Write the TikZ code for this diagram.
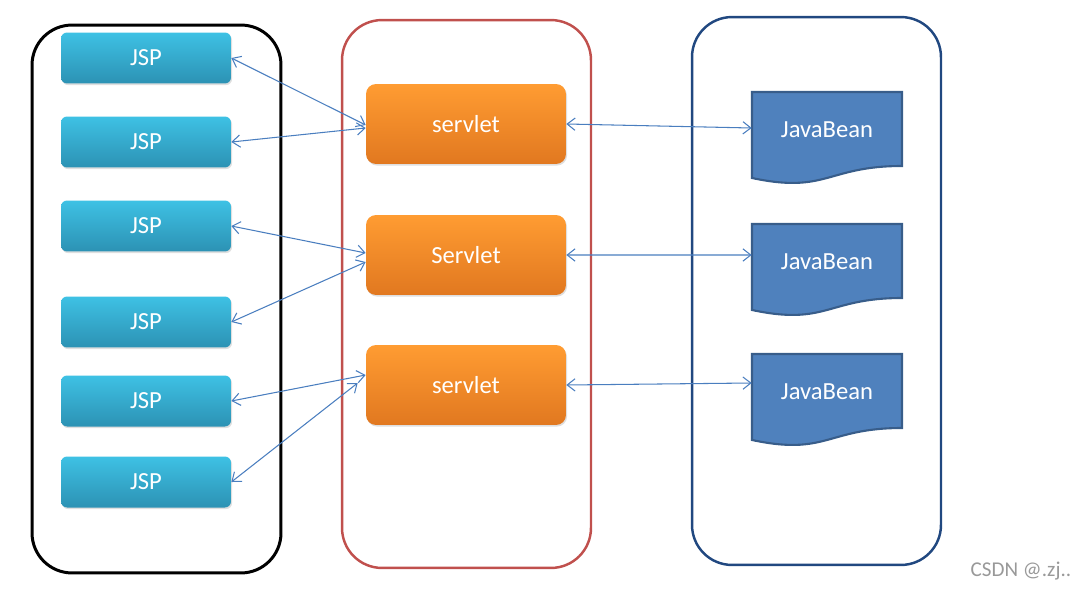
\documentclass[tikz,border=0pt]{standalone}
\usepackage{fontspec}
\setmainfont{Carlito}
\usetikzlibrary{arrows.meta,shadows}

\definecolor{jsptop}{RGB}{62,193,228}
\definecolor{jspbot}{RGB}{44,146,180}
\definecolor{srvtop}{RGB}{255,156,50}
\definecolor{srvbot}{RGB}{225,120,32}
\definecolor{beanfill}{RGB}{79,129,189}
\definecolor{beanline}{RGB}{56,93,138}
\definecolor{panelred}{RGB}{192,80,77}
\definecolor{panelblue}{RGB}{33,72,128}
\definecolor{linkblue}{RGB}{74,126,191}

\begin{document}
\begin{tikzpicture}
        [
            x = 0.02cm, y = -0.02cm,
            > = {Straight Barb[length=4.5pt,width=7pt]},
            panel/.style = {
                draw, rectangle, rounded corners=0.8cm,
                minimum width=4.98cm, minimum height=10.96cm},
            jsp/.style = {
                rectangle, rounded corners=0.12cm,
                top color=jsptop, bottom color=jspbot,
                minimum width=3.4cm, minimum height=1.02cm,
                text=white, font=\fontsize{14pt}{16pt}\selectfont,
                drop shadow={shadow xshift=0.6pt, shadow yshift=-0.9pt, opacity=0.25}},
            srv/.style = {
                rectangle, rounded corners=0.2cm,
                top color=srvtop, bottom color=srvbot,
                minimum width=4cm, minimum height=1.6cm,
                text=white, font=\fontsize{14pt}{16pt}\selectfont,
                drop shadow={shadow xshift=0.6pt, shadow yshift=-0.9pt, opacity=0.25}},
            beanshape/.style = {draw=beanline, fill=beanfill, line width=1.2pt},
            bean/.style = {
                rectangle, minimum width=3cm,
                text=white, font=\fontsize{14pt}{16pt}\selectfont},
            link/.style = {<->, draw=linkblue, line width=0.6pt}
        ]
        \useasboundingbox (0,0) rectangle (1086,592);

        % the three columns
        \node [panel, draw=black, line width=1.7pt] (view) at (156.5,299) {};
        \node [panel, draw=panelred, line width=1.4pt] (control) at (466.5,294) {};
        \node [panel, draw=panelblue, line width=1.4pt] (model) at (816.5,291) {};

        \node [jsp] (jsp1) at (146,58) {JSP};
        \node [jsp] (jsp2) at (146,142) {JSP};
        \node [jsp] (jsp3) at (146,226) {JSP};
        \node [jsp] (jsp4) at (146,322) {JSP};
        \node [jsp] (jsp5) at (146,401) {JSP};
        \node [jsp] (jsp6) at (146,482) {JSP};

        \node [srv] (srv1) at (466,124) {servlet};
        \node [srv] (srv2) at (466,255) {Servlet};
        \node [srv] (srv3) at (466,385) {servlet};

        % document shapes, wavy bottom
        \foreach \i/\t in {1/92, 2/224, 3/354} {
            \draw [beanshape] (752,\t) -- (902,\t) -- (902,\t+74)
                .. controls (827,\t+74) and (827,\t+102) .. (752,\t+86) -- cycle;
            \node [bean] (bean\i) at (827,\t+38) {JavaBean};
        }

        \draw [link] (jsp1.east) -- ([yshift=-0.02cm]srv1.west);
        \draw [link] (jsp2.east) -- ([yshift=-0.08cm]srv1.west);
        \draw [link] (jsp3.east) -- ([yshift=0.04cm]srv2.west);
        \draw [link] (jsp4.east) -- ([yshift=-0.14cm]srv2.west);
        \draw [link] (jsp5.east) -- ([yshift=0.2cm]srv3.west);
        \draw [link] (jsp6.east) -- ([xshift=-0.16cm,yshift=0.04cm]srv3.west);
        \draw [link] (srv1.east) -- ([yshift=0.04cm]bean1.west);
        \draw [link] (srv2.east) -- ([yshift=0.14cm]bean2.west);
        \draw [link] (srv3.east) -- ([yshift=0.18cm]bean3.west);

        \node [text=black!40, font=\fontsize{12pt}{14pt}\selectfont] (mark) at (1021,571) {CSDN @.zj..};
    \end{tikzpicture}
\end{document}
